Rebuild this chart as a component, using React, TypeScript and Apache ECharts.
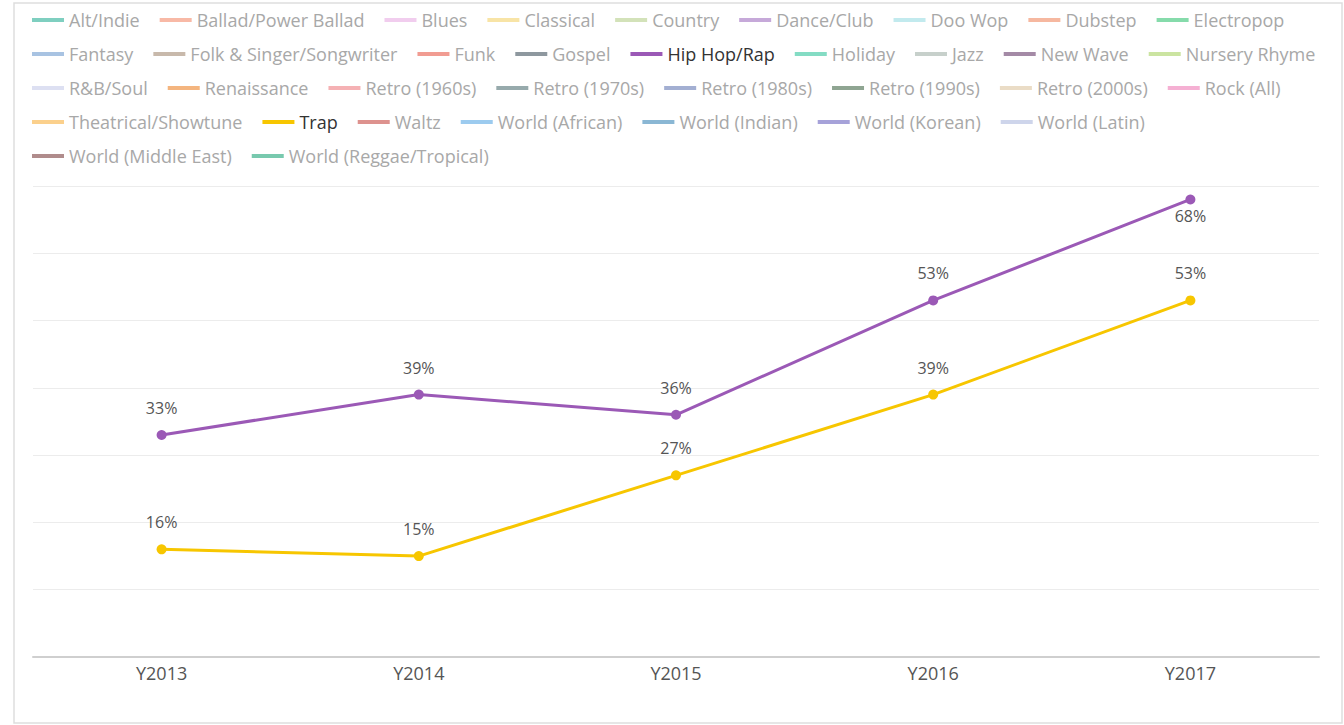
import React, { useEffect, useRef } from "react";
import * as echarts from "echarts";

const years = ["Y2013", "Y2014", "Y2015", "Y2016", "Y2017"];
const hipHopRap = [33, 39, 36, 53, 68];
const trap = [16, 15, 27, 39, 53];
const yTicks = { min: 0, max: 70, interval: 10 };

const genres = [
  "Alt/Indie", "Ballad/Power Ballad", "Blues", "Classical", "Country", "Dance/Club", "Doo Wop", "Dubstep", "Electropop",
  "Fantasy", "Folk & Singer/Songwriter", "Funk", "Gospel", "Hip Hop/Rap", "Holiday", "Jazz", "New Wave", "Nursery Rhyme",
  "R&B/Soul", "Renaissance", "Retro (1960s)", "Retro (1970s)", "Retro (1980s)", "Retro (1990s)", "Retro (2000s)", "Rock (All)",
  "Theatrical/Showtune", "Trap", "Waltz", "World (African)", "World (Indian)", "World (Korean)", "World (Latin)",
  "World (Middle East)", "World (Reggae/Tropical)",
];
const genreColors = [
  "#7fcfc0", "#f8b9a6", "#f1cdee", "#f8e4a6", "#d3e2b9", "#c6a9d9", "#c2eaee", "#f6b8a0", "#86dbab",
  "#a8c3e2", "#c8b9ab", "#f19c92", "#8e989f", "#9b59b6", "#84dcc4", "#c7d0cb", "#a48aa6", "#cbe4a1",
  "#dde0f2", "#f4b57f", "#f5b1b4", "#97aaac", "#a3afd2", "#8fa592", "#eadcc6", "#f5b0d3",
  "#fbd08c", "#f7c600", "#dd928e", "#9ccbef", "#8ab7d4", "#a6a2d9", "#ced5eb",
  "#b08c8c", "#78c9ae",
];
// how many legend entries sit on each legend row
const legendRowCounts = [9, 9, 8, 7, 2];
const seriesValues: Record<string, number[]> = {
  "Hip Hop/Rap": hipHopRap,
  Trap: trap,
};

export default function App() {
  const ref = useRef<HTMLDivElement>(null);
  useEffect(() => {
    if (!ref.current) return;
    const chart = echarts.init(ref.current, null, { renderer: "svg" });
    const font = "'Open Sans', 'Noto Sans', sans-serif";
    const series = genres.map((g, i) => {
      const values = seriesValues[g] || [];
      const isTop = (idx: number) => !(g === "Hip Hop/Rap" && idx === values.length - 1);
      return {
        name: g,
        type: "line",
        color: genreColors[i],
        symbol: "circle",
        symbolSize: 10,
        lineStyle: { width: 3, color: genreColors[i] },
        itemStyle: { color: genreColors[i] },
        data: values.map((v, idx) => ({
          value: v,
          label: isTop(idx)
            ? { position: "top", distance: 14 }
            : { position: "bottom", distance: 4 },
        })),
        label: {
          show: true,
          formatter: "{c}%",
          color: "#555",
          fontSize: 16,
          fontFamily: font,
        },
        z: g === "Hip Hop/Rap" ? 3 : 2,
      };
    });
    const legends: any[] = [];
    let start = 0;
    legendRowCounts.forEach((count, row) => {
      const names = genres.slice(start, start + count);
      start += count;
      legends.push({
        left: 32,
        top: 11 + row * 34,
        padding: 0,
        orient: "horizontal",
        icon: "rect",
        itemWidth: 32,
        itemHeight: 4,
        itemGap: 20,
        selectedMode: false,
        data: names.map((g) => ({
          name: g,
          textStyle: {
            color: seriesValues[g] ? "#333" : "#a8a8a8",
            fontSize: 18,
            fontFamily: font,
          },
        })),
        textStyle: { fontSize: 18, fontFamily: font },
      });
    });
    chart.setOption({
      animation: false,
      backgroundColor: "#fff",
      graphic: [
        {
          type: "rect",
          shape: { x: 14, y: 3, width: 1328, height: 720 },
          style: { fill: "none", stroke: "#dedede", lineWidth: 1.5 },
          silent: true,
        },
      ],
      legend: legends,
      grid: { left: 33, right: 25, top: 186, bottom: 68, containLabel: false },
      xAxis: {
        type: "category",
        data: years,
        boundaryGap: true,
        axisLine: { lineStyle: { color: "#cfcfcf", width: 2 } },
        axisTick: { alignWithLabel: true, length: 4, lineStyle: { color: "#d5d5d5" } },
        axisLabel: { color: "#555", fontSize: 18, fontFamily: font, margin: 7 },
      },
      yAxis: {
        type: "value",
        min: yTicks.min,
        max: yTicks.max,
        interval: yTicks.interval,
        axisLabel: { show: false },
        axisLine: { show: false },
        axisTick: { show: false },
        splitLine: { lineStyle: { color: "#ececec", width: 1 } },
      },
      series,
    });
    return () => chart.dispose();
  }, []);
  return (
    <div
      ref={ref}
      style={{ position: "fixed", left: 0, top: 0, width: 1344, height: 725 }}
    />
  );
}
